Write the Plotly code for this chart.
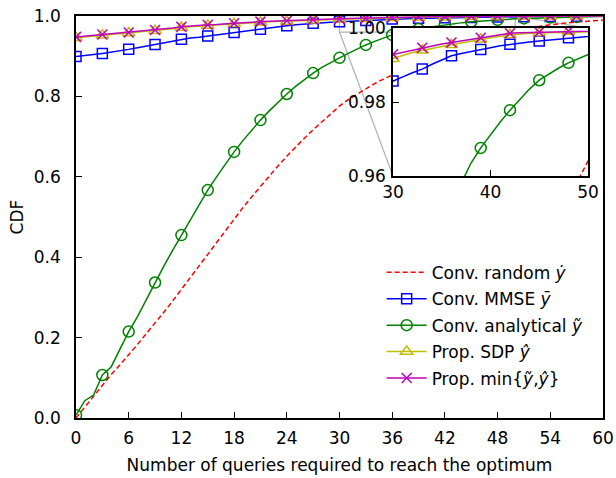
import plotly.graph_objects as go

queries = list(range(61))

random_cdf = [0.0, 0.027, 0.055, 0.083, 0.108, 0.132, 0.157, 0.183, 0.21, 0.236,
              0.263, 0.291, 0.32, 0.35, 0.38, 0.41, 0.438, 0.467, 0.495, 0.523,
              0.55, 0.576, 0.602, 0.627, 0.651, 0.674, 0.696, 0.717, 0.737, 0.757,
              0.776, 0.792, 0.806, 0.82, 0.832, 0.843, 0.853, 0.864, 0.875, 0.885,
              0.895, 0.904, 0.912, 0.92, 0.928, 0.935, 0.942, 0.948, 0.954, 0.959,
              0.964, 0.968, 0.972, 0.975, 0.978, 0.981, 0.983, 0.985, 0.987, 0.989,
              0.99]

mmse_cdf = [0.899, 0.901, 0.904, 0.907, 0.910, 0.913, 0.917, 0.921, 0.925, 0.929,
            0.934, 0.938, 0.942, 0.945, 0.947, 0.950, 0.953, 0.956, 0.959, 0.962,
            0.964, 0.967, 0.970, 0.973, 0.976, 0.978, 0.980, 0.982, 0.9834, 0.9846,
            0.9857, 0.9868, 0.9879, 0.9889, 0.9902, 0.9914, 0.9925, 0.9931, 0.9937, 0.9942,
            0.9947, 0.9952, 0.9956, 0.9959, 0.9962, 0.9965, 0.9968, 0.9971, 0.9974, 0.9978,
            0.9982, 0.9984, 0.9986, 0.9988, 0.999, 0.9991, 0.9993, 0.9994, 0.9995, 0.9996,
            0.9996]

analytical_cdf = [0.007, 0.043, 0.057, 0.107, 0.127, 0.17, 0.215, 0.252, 0.295, 0.337,
                  0.378, 0.417, 0.455, 0.493, 0.53, 0.567, 0.6, 0.632, 0.662, 0.69,
                  0.716, 0.741, 0.764, 0.786, 0.806, 0.825, 0.842, 0.858, 0.872, 0.885,
                  0.896, 0.907, 0.918, 0.928, 0.937, 0.945, 0.953, 0.958, 0.9635, 0.9676,
                  0.9712, 0.9746, 0.9778, 0.9808, 0.9835, 0.9859, 0.9876, 0.9892, 0.9906, 0.9918,
                  0.9929, 0.9939, 0.9948, 0.9956, 0.9962, 0.9968, 0.9973, 0.9978, 0.9982, 0.9985,
                  0.9988]

sdp_cdf = [0.946, 0.948, 0.950, 0.952, 0.954, 0.9555, 0.9575, 0.9595, 0.9615, 0.9635,
           0.9665, 0.9685, 0.9715, 0.9735, 0.9745, 0.9765, 0.9775, 0.9795, 0.9805, 0.9815,
           0.9835, 0.9845, 0.9855, 0.986, 0.9865, 0.9875, 0.9885, 0.9895, 0.9902, 0.991,
           0.9917, 0.9926, 0.9934, 0.994, 0.9945, 0.995, 0.9955, 0.996, 0.9966, 0.997,
           0.9974, 0.9978, 0.9982, 0.9984, 0.9986, 0.9987, 0.9988, 0.9989, 0.9991, 0.9991,
           0.9992, 0.9992, 0.9993, 0.9994, 0.9995, 0.9995, 0.9996, 0.9996, 0.9997, 0.9997,
           0.9997]

min_cdf = [0.948, 0.950, 0.952, 0.954, 0.956, 0.957, 0.959, 0.961, 0.963, 0.965,
           0.968, 0.970, 0.973, 0.975, 0.976, 0.978, 0.979, 0.981, 0.982, 0.983,
           0.985, 0.986, 0.987, 0.9875, 0.988, 0.989, 0.990, 0.991, 0.9916, 0.9923,
           0.9929, 0.9935, 0.9941, 0.9947, 0.9952, 0.9957, 0.9961, 0.9965, 0.9970, 0.9974,
           0.9978, 0.9982, 0.9986, 0.9987, 0.9988, 0.9989, 0.999, 0.9991, 0.9992, 0.9992,
           0.9993, 0.9993, 0.9994, 0.9995, 0.9995, 0.9996, 0.9996, 0.9997, 0.9997, 0.9998,
           0.9998]

x_ticks = [0, 6, 12, 18, 24, 30, 36, 42, 48, 54, 60]
y_ticks = [0.0, 0.2, 0.4, 0.6, 0.8, 1.0]
inset_x_range = [30, 50]
inset_y_range = [0.96, 1.0]
inset_x_ticks = [30, 40, 50]
inset_y_ticks = [0.96, 0.98, 1.00]
marker_step = 3
marker_last = 57

series = [
    dict(name="Conv. random <i>ẏ</i>", y=random_cdf, color="#ff0000", dash="5px,3px", symbol=None, size=0),
    dict(name="Conv. MMSE <i>ȳ</i>", y=mmse_cdf, color="#0000ff", dash="solid", symbol="square-open", size=10),
    dict(name="Conv. analytical <i>ỹ</i>", y=analytical_cdf, color="#008000", dash="solid", symbol="circle-open", size=11),
    dict(name="Prop. SDP <i>ŷ</i>", y=sdp_cdf, color="#bfbf00", dash="solid", symbol="triangle-up-open", size=11),
    dict(name="Prop. min{<i>ỹ</i>,<i>ŷ</i>}", y=min_cdf, color="#bf00bf", dash="solid", symbol="x-thin-open", size=10),
]

FONT = "DejaVu Sans"
fig = go.Figure()

# white background for inset (drawn in inset subplot, above main traces)
inset_bg_x = [inset_x_range[0], inset_x_range[1], inset_x_range[1], inset_x_range[0], inset_x_range[0]]
inset_bg_y = [inset_y_range[0], inset_y_range[0], inset_y_range[1], inset_y_range[1], inset_y_range[0]]

for axes in [("x", "y"), ("x2", "y2")]:
    if axes[0] == "x2":
        fig.add_trace(go.Scatter(x=inset_bg_x, y=inset_bg_y, xaxis="x2", yaxis="y2", mode="lines",
                                 fill="toself", fillcolor="white", line=dict(width=0, color="white"),
                                 showlegend=False, hoverinfo="skip"))
    for s in series:
        fig.add_trace(go.Scatter(x=queries, y=s["y"], xaxis=axes[0], yaxis=axes[1], mode="lines",
                                 line=dict(color=s["color"], width=1.5, dash=s["dash"]),
                                 showlegend=False, hoverinfo="skip"))
        if s["symbol"]:
            mx = [q for q in queries if q % marker_step == 0 and q <= marker_last]
            my = [s["y"][q] for q in mx]
            fig.add_trace(go.Scatter(x=mx, y=my, xaxis=axes[0], yaxis=axes[1], mode="markers",
                                     marker=dict(symbol=s["symbol"], size=s["size"], color=s["color"],
                                                 line=dict(color=s["color"], width=1.5)),
                                     showlegend=False, hoverinfo="skip"))

# legend entries
for i, s in enumerate(series):
    mode = "lines+markers" if s["symbol"] else "lines"
    fig.add_trace(go.Scatter(x=[None], y=[None], mode=mode, name=s["name"], legendgroup=f"g{i}",
                             line=dict(color=s["color"], width=1.5, dash=s["dash"]),
                             marker=dict(symbol=s["symbol"] or "circle", size=s["size"], color=s["color"],
                                         line=dict(color=s["color"], width=1.5)),
                             showlegend=True))

inset_xdom = [0.6015, 0.9715]
inset_ydom = [0.602, 0.970]

axis_common = dict(showline=True, linecolor="black", linewidth=1.5, mirror=True,
                   ticks="inside", tickcolor="black", tickwidth=1.2, ticklen=6,
                   showgrid=False, zeroline=False, automargin=False,
                   tickfont=dict(family=FONT, size=17, color="black"))

fig.update_layout(
    width=616, height=478,
    margin=dict(l=76, r=13, t=16, b=60, autoexpand=False),
    paper_bgcolor="white", plot_bgcolor="white",
    font=dict(family=FONT, size=17, color="black"),
    xaxis=dict(range=[0, 60], tickvals=x_ticks, domain=[0, 1], anchor="y",
               title=dict(text="Number of queries required to reach the optimum",
                          font=dict(family=FONT, size=17), standoff=12),
               ticklabelstandoff=4, **axis_common),
    yaxis=dict(range=[0, 1], tickvals=y_ticks, tickformat=".1f", domain=[0, 1], anchor="x",
               title=dict(text="CDF", font=dict(family=FONT, size=17), standoff=6),
               ticklabelstandoff=10, **axis_common),
    xaxis2=dict(range=inset_x_range, tickvals=inset_x_ticks, domain=inset_xdom, anchor="y2",
                ticklabelstandoff=0, **axis_common),
    yaxis2=dict(range=inset_y_range, tickvals=inset_y_ticks, tickformat=".2f", domain=inset_ydom,
                anchor="x2", ticklabelstandoff=2, **axis_common),
    legend=dict(x=0.58, y=0.406, xanchor="left", yanchor="top", bgcolor="rgba(255,255,255,0)",
                font=dict(family=FONT, size=17), itemwidth=40, traceorder="grouped",
                tracegroupgap=1.3),
    showlegend=True,
)

# zoom rectangle and connectors (main data coordinates)
gray = "#b0b0b0"
x0, x1 = inset_x_range
y0, y1 = inset_y_range
fig.add_shape(type="rect", x0=x0, x1=x1, y0=y0, y1=y1, xref="x", yref="y",
              line=dict(color=gray, width=1.2), layer="below")
fig.add_shape(type="line", x0=x0, y0=y0, x1=inset_xdom[0] * 60, y1=inset_ydom[0],
              xref="x", yref="y", line=dict(color=gray, width=1.2), layer="below")
fig.add_shape(type="line", x0=x1, y0=y1, x1=inset_xdom[1] * 60, y1=inset_ydom[1],
              xref="x", yref="y", line=dict(color=gray, width=1.2), layer="below")

fig.write_html("out.html")
